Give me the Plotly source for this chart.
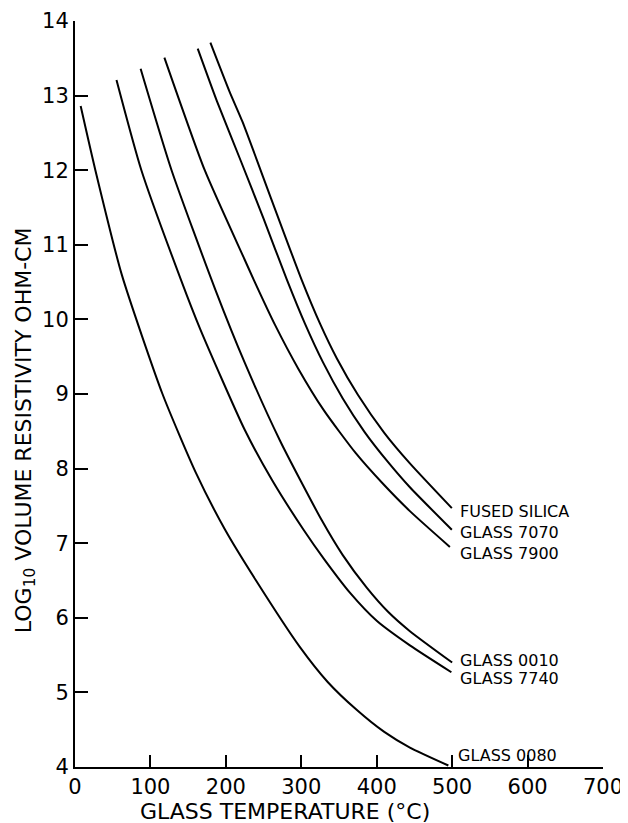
import plotly.graph_objects as go

# Temperature (deg C) and log10 volume resistivity (ohm-cm)
glass_0080_t = [7.5, 27, 62, 116, 160, 199, 240, 298, 335, 373, 410, 444, 495]
glass_0080_r = [12.86, 12.0, 10.6, 9.0, 7.95, 7.18, 6.5, 5.61, 5.14, 4.77, 4.47, 4.26, 4.02]

glass_7740_t = [55, 88, 140.5, 166, 225, 261, 303, 330, 365, 400, 444, 499]
glass_7740_r = [13.21, 12.0, 10.53, 9.87, 8.52, 7.85, 7.18, 6.79, 6.33, 5.96, 5.63, 5.27]

glass_0010_t = [87, 128, 186, 225, 272, 327, 355, 387, 415, 444, 500]
glass_0010_r = [13.36, 12.0, 10.40, 9.42, 8.37, 7.31, 6.84, 6.40, 6.08, 5.82, 5.40]

glass_7900_t = [118.5, 172, 225, 237, 265, 296, 330, 372, 408, 444, 497]
glass_7900_r = [13.51, 12.0, 10.80, 10.53, 9.93, 9.34, 8.78, 8.21, 7.80, 7.43, 6.95]

glass_7070_t = [162.7, 188, 220, 250, 281, 305, 329, 355, 384, 414, 444, 499.6]
glass_7070_r = [13.63, 12.93, 12.12, 11.35, 10.53, 9.94, 9.42, 8.94, 8.49, 8.10, 7.75, 7.18]

silica_t = [179.5, 205, 222, 260, 300.5, 325, 347, 375, 410, 444, 499.6]
silica_r = [13.71, 13.05, 12.65, 11.62, 10.53, 9.94, 9.48, 8.99, 8.48, 8.07, 7.47]

series_names = ["GLASS 0080", "GLASS 7740", "GLASS 0010", "GLASS 7900", "GLASS 7070", "FUSED SILICA"]
series_t = [glass_0080_t, glass_7740_t, glass_0010_t, glass_7900_t, glass_7070_t, silica_t]
series_r = [glass_0080_r, glass_7740_r, glass_0010_r, glass_7900_r, glass_7070_r, silica_r]

# Label anchor values (deg C, log10 resistivity)
label_texts = ["FUSED SILICA", "GLASS 7070", "GLASS 7900", "GLASS 0010", "GLASS 7740", "GLASS 0080"]
label_t = [508, 508, 508, 508, 508, 505]
label_r = [7.42, 7.14, 6.86, 5.43, 5.19, 4.15]

x_ticks = [0, 100, 200, 300, 400, 500, 600, 700]
y_ticks = [4, 5, 6, 7, 8, 9, 10, 11, 12, 13, 14]

FONT = "DejaVu Sans"

fig = go.Figure()
for name, t, r in zip(series_names, series_t, series_r):
    fig.add_trace(go.Scatter(x=t, y=r, mode="lines", name=name,
                             line=dict(color="black", width=2, shape="spline", smoothing=0.6),
                             showlegend=False, hoverinfo="skip"))

for txt, t, r in zip(label_texts, label_t, label_r):
    fig.add_annotation(x=t, y=r, xref="x", yref="y", text=txt, showarrow=False,
                       xanchor="left", yanchor="middle",
                       font=dict(family=FONT, size=16, color="black"))

# Axis titles placed as annotations
fig.add_annotation(x=0.397, y=-0.059, xref="paper", yref="paper",
                   text="GLASS TEMPERATURE (°C)", showarrow=False,
                   xanchor="center", yanchor="middle",
                   font=dict(family=FONT, size=22, color="black"))
fig.add_annotation(x=-0.094, y=0.452, xref="paper", yref="paper",
                   text="LOG<sub>10</sub> VOLUME RESISTIVITY OHM-CM", showarrow=False,
                   textangle=-90, xanchor="center", yanchor="middle",
                   font=dict(family=FONT, size=22, color="black"))

# page body has an 8px margin, so the figure is offset by 8px
fig.update_layout(
    width=620, height=815,
    margin=dict(l=67, r=25, t=13, b=56),
    paper_bgcolor="white", plot_bgcolor="white",
    font=dict(family=FONT, color="black"),
)
fig.update_xaxes(range=[0, 700], tickvals=x_ticks, ticktext=[str(v) for v in x_ticks],
                 ticks="inside", ticklen=12, tickwidth=1.5, tickcolor="black",
                 showline=True, linecolor="black", linewidth=2, showgrid=False, zeroline=False,
                 automargin=False,
                 tickfont=dict(family=FONT, size=21, color="black"))
fig.update_yaxes(range=[4, 14], tickvals=y_ticks, ticktext=[str(v) for v in y_ticks],
                 ticks="inside", ticklen=13, tickwidth=1.5, tickcolor="black",
                 showline=True, linecolor="black", linewidth=2, showgrid=False, zeroline=False,
                 automargin=False,
                 tickfont=dict(family=FONT, size=21, color="black"))

fig.write_html("out.html")
